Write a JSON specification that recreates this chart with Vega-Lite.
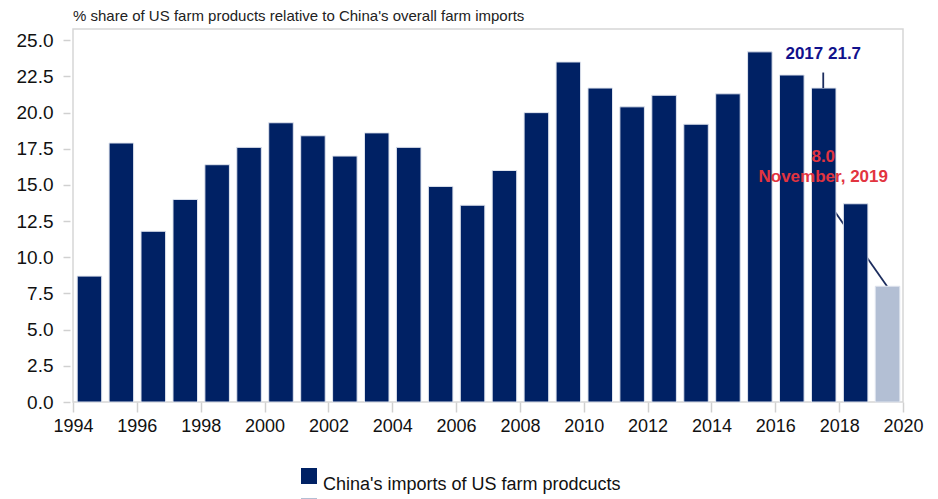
{
  "$schema": "https://vega.github.io/schema/vega-lite/v6.json",
  "autosize": {"type": "none"},
  "padding": {"left": 73, "top": 29, "right": 35, "bottom": 97},
  "width": 830,
  "height": 373,
  "background": "white",
  "config": {
    "font": "Liberation Sans",
    "view": {"stroke": "#d6d6d6", "strokeWidth": 1.5}
  },
  "title": {
    "text": "% share of US farm products relative to China's overall farm imports",
    "anchor": "start",
    "frame": "group",
    "fontSize": 15,
    "fontWeight": "normal",
    "color": "#222222",
    "baseline": "alphabetic",
    "offset": 9,
    "dy": 16
  },
  "datasets": {
    "bars": [
      {"year": "1994", "value": 8.7, "series": "China's imports of US farm prodcucts"},
      {"year": "1995", "value": 17.9, "series": "China's imports of US farm prodcucts"},
      {"year": "1996", "value": 11.8, "series": "China's imports of US farm prodcucts"},
      {"year": "1997", "value": 14.0, "series": "China's imports of US farm prodcucts"},
      {"year": "1998", "value": 16.4, "series": "China's imports of US farm prodcucts"},
      {"year": "1999", "value": 17.6, "series": "China's imports of US farm prodcucts"},
      {"year": "2000", "value": 19.3, "series": "China's imports of US farm prodcucts"},
      {"year": "2001", "value": 18.4, "series": "China's imports of US farm prodcucts"},
      {"year": "2002", "value": 17.0, "series": "China's imports of US farm prodcucts"},
      {"year": "2003", "value": 18.6, "series": "China's imports of US farm prodcucts"},
      {"year": "2004", "value": 17.6, "series": "China's imports of US farm prodcucts"},
      {"year": "2005", "value": 14.9, "series": "China's imports of US farm prodcucts"},
      {"year": "2006", "value": 13.6, "series": "China's imports of US farm prodcucts"},
      {"year": "2007", "value": 16.0, "series": "China's imports of US farm prodcucts"},
      {"year": "2008", "value": 20.0, "series": "China's imports of US farm prodcucts"},
      {"year": "2009", "value": 23.5, "series": "China's imports of US farm prodcucts"},
      {"year": "2010", "value": 21.7, "series": "China's imports of US farm prodcucts"},
      {"year": "2011", "value": 20.4, "series": "China's imports of US farm prodcucts"},
      {"year": "2012", "value": 21.2, "series": "China's imports of US farm prodcucts"},
      {"year": "2013", "value": 19.2, "series": "China's imports of US farm prodcucts"},
      {"year": "2014", "value": 21.3, "series": "China's imports of US farm prodcucts"},
      {"year": "2015", "value": 24.2, "series": "China's imports of US farm prodcucts"},
      {"year": "2016", "value": 22.6, "series": "China's imports of US farm prodcucts"},
      {"year": "2017", "value": 21.7, "series": "China's imports of US farm prodcucts"},
      {"year": "2018", "value": 13.7, "series": "China's imports of US farm prodcucts"},
      {"year": "2019", "value": 8.0, "series": "November, 2019"}
    ],
    "callout": [
      {"year": "2017", "value": 14.3},
      {"year": "2019", "value": 8.0}
    ],
    "label2017": [
      {"year": "2017", "value": 21.7, "label": "2017 21.7"}
    ],
    "labelNov": [
      {"year": "2017", "value": 14.3, "label": ["8.0", "November, 2019"]}
    ]
  },
  "encoding": {
    "x": {
      "field": "year",
      "type": "temporal",
      "timeUnit": "utcyear",
      "bandPosition": 0.5,
      "title": null,
      "scale": {"type": "utc", "domain": [{"year": 1994, "utc": true}, {"year": 2020, "utc": true}]},
      "axis": {
        "values": [
          {"year": 1994, "utc": true}, {"year": 1996, "utc": true}, {"year": 1998, "utc": true},
          {"year": 2000, "utc": true}, {"year": 2002, "utc": true}, {"year": 2004, "utc": true},
          {"year": 2006, "utc": true}, {"year": 2008, "utc": true}, {"year": 2010, "utc": true},
          {"year": 2012, "utc": true}, {"year": 2014, "utc": true}, {"year": 2016, "utc": true},
          {"year": 2018, "utc": true}, {"year": 2020, "utc": true}
        ],
        "format": "%Y",
        "domain": false,
        "grid": false,
        "tickSize": 10,
        "tickColor": "#d0d0d0",
        "tickWidth": 1.5,
        "labelFontSize": 18,
        "labelColor": "#111111",
        "labelPadding": 5,
        "labelFlush": false,
        "labelOverlap": false
      }
    },
    "y": {
      "field": "value",
      "type": "quantitative",
      "title": null,
      "scale": {"domain": [0, 25.78], "nice": false, "zero": true},
      "axis": {
        "values": [0, 2.5, 5, 7.5, 10, 12.5, 15, 17.5, 20, 22.5, 25],
        "format": ".1f",
        "domain": false,
        "grid": false,
        "offset": 3,
        "tickSize": 7,
        "tickColor": "#d0d0d0",
        "tickWidth": 1.5,
        "labelFontSize": 19,
        "labelColor": "#111111",
        "labelPadding": 10
      }
    }
  },
  "layer": [
    {
      "data": {"name": "callout"},
      "mark": {"type": "line", "color": "#1c2d5e", "strokeWidth": 1.8},
      "encoding": {}
    },
    {
      "data": {"name": "bars"},
      "mark": {"type": "bar", "width": {"band": 0.8}, "stroke": "#dfe4ee", "strokeWidth": 1},
      "encoding": {
        "color": {
          "field": "series",
          "type": "nominal",
          "scale": {
            "domain": ["China's imports of US farm prodcucts", "November, 2019"],
            "range": ["#002164", "#b3bfd4"]
          },
          "legend": {
            "title": null,
            "orient": "none",
            "legendX": 227,
            "legendY": 438,
            "direction": "vertical",
            "padding": 0,
            "symbolType": "square",
            "symbolSize": 256,
            "symbolStrokeWidth": 0,
            "labelFontSize": 18,
            "labelColor": "#111111",
            "labelBaseline": "top",
            "labelOffset": 5,
            "labelLimit": 500,
            "rowPadding": 3,
            "labelExpr": "datum.label == 'November, 2019' ? '' : datum.label"
          }
        }
      }
    },
    {
      "data": {"name": "label2017"},
      "mark": {"type": "rule", "color": "#1c2d5e", "strokeWidth": 1.8, "y2Offset": -15.5},
      "encoding": {
        "y2": {"field": "value"}
      }
    },
    {
      "data": {"name": "label2017"},
      "mark": {"type": "text", "fontSize": 17, "fontWeight": "bold", "color": "#11118c", "baseline": "alphabetic", "dy": -28.7},
      "encoding": {"text": {"field": "label"}}
    },
    {
      "data": {"name": "labelNov"},
      "mark": {"type": "text", "fontSize": 17, "fontWeight": "bold", "color": "#e2343f", "baseline": "alphabetic", "dy": -32.7, "lineHeight": 19.4},
      "encoding": {"text": {"field": "label"}}
    }
  ]
}
